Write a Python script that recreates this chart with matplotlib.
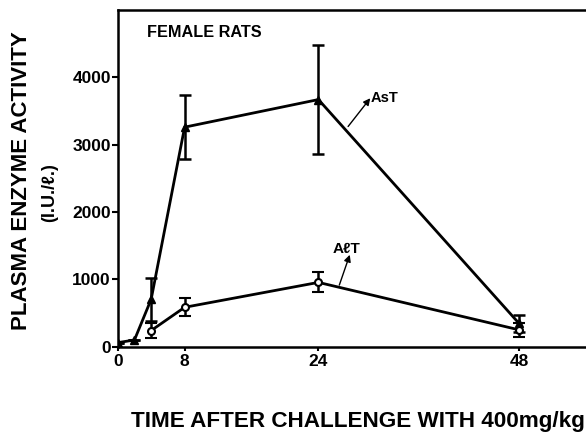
import matplotlib

matplotlib.use('agg')
import matplotlib.pyplot as plt

plt.rcParams['font.family'] = ['Liberation Sans', 'DejaVu Sans']
plt.rcParams['font.weight'] = 'bold'

# Data (hours after challenge, I.U./l)
ast_hours = [0, 2, 4, 8, 24, 48]
ast_activity = [60, 100, 705, 3260, 3670, 345]
ast_err = [0, 0, 320, 480, 810, 125]

alt_hours = [4, 8, 24, 48]
alt_activity = [240, 585, 955, 250]
alt_err = [105, 135, 150, 100]

x_ticks = [0, 8, 24, 48]
y_ticks = [0, 1000, 2000, 3000, 4000]


def plot():
    fig = plt.figure(figsize=(5.86, 4.42), dpi=100)
    ax = fig.add_axes([0.2009, 0.2156, 0.7991, 0.7618])

    ax.errorbar(ast_hours, ast_activity, yerr=ast_err, color='black', lw=2,
                marker='^', ms=6, mfc='black', capsize=4.5, capthick=1.8,
                elinewidth=1.8)
    ax.errorbar(alt_hours, alt_activity, yerr=alt_err, color='black', lw=2,
                marker='o', ms=5, mfc='white', mew=1.5, capsize=4.5,
                capthick=1.8, elinewidth=1.8)

    ax.set_xlim(0, 56)
    ax.set_ylim(0, 5000)
    ax.set_xticks(x_ticks)
    ax.set_yticks(y_ticks)
    ax.tick_params(axis='y', direction='out', length=4, width=1.5, pad=1,
                   labelsize=12.5)
    ax.tick_params(axis='x', direction='out', length=3, width=1.5, pad=2,
                   labelsize=12.5)
    for lab in ax.get_xticklabels() + ax.get_yticklabels():
        lab.set_fontweight('bold')

    for side in ['left', 'bottom', 'top']:
        ax.spines[side].set_linewidth(1.8)
    ax.spines['right'].set_visible(False)

    ax.text(0.062, 0.921, 'FEMALE RATS', transform=ax.transAxes,
            fontsize=11.7, fontweight='bold', va='baseline')

    # arrows from the curves to their labels
    ax.annotate('', xy=(30.2, 3690), xytext=(27.55, 3270),
                arrowprops=dict(arrowstyle='-|>', lw=1, color='black',
                                mutation_scale=10, shrinkA=0, shrinkB=0))
    ax.text(30.3, 3690, 'AsT', fontsize=10.5, fontweight='bold',
            va='center', ha='left')

    ax.annotate('', xy=(27.75, 1365), xytext=(26.5, 915),
                arrowprops=dict(arrowstyle='-|>', lw=1, color='black',
                                mutation_scale=10, shrinkA=0, shrinkB=0))
    ax.text(25.7, 1450, 'A\u2113T', fontsize=11, fontweight='bold',
            va='center', ha='left')

    fig.text(22 / 586, 1 - 181 / 442, 'PLASMA ENZYME ACTIVITY', rotation=90,
             fontsize=16, fontweight='bold', ha='center', va='center')
    fig.text(50 / 586, 1 - 193 / 442, '(I.U./\u2113.)', rotation=90,
             fontsize=13, fontweight='bold', ha='center', va='center')
    fig.text(131 / 586, 1 - 427 / 442, 'TIME AFTER CHALLENGE WITH 400mg/kg',
             fontsize=16.2, fontweight='bold', ha='left', va='baseline')

    fig.savefig('out.png', dpi=100)


if __name__ == "__main__":
    plot()
